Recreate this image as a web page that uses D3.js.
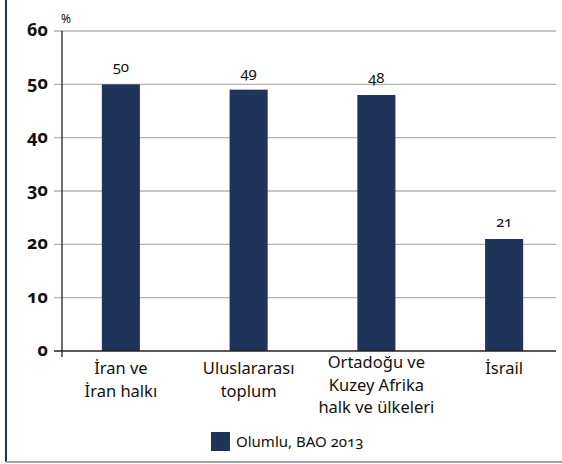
<!DOCTYPE html>
<html>
  <head>
    <style>
      body { margin: 0; background: #fff; overflow: hidden; }
      .grid line { stroke: #b3b3b3; stroke-width: 1.3px; }
    </style>
  </head>
  <body>
    <svg width="562" height="464"></svg>
  </body>
  <script src="https://d3js.org/d3.v7.min.js"></script>
  <script>
    const categories = [['İran ve', 'İran halkı'], ['Uluslararası', 'toplum'], ['Ortadoğu ve', 'Kuzey Afrika', 'halk ve ülkeleri'], ['İsrail']];
    const values = [50, 49, 48, 21];
    const yTicks = [0, 10, 20, 30, 40, 50, 60];
    const seriesName = 'Olumlu, BAO 2013';

    const svg = d3.select('svg');
    const barColor = '#1f3459';

    // frame: dark left edge, grey bottom edge
    svg.append('line').attr('x1', 6).attr('x2', 6).attr('y1', 0).attr('y2', 462)
      .attr('stroke', barColor).attr('stroke-width', 2);
    svg.append('line').attr('x1', 6).attr('x2', 562).attr('y1', 462).attr('y2', 462)
      .attr('stroke', '#a0a4ab').attr('stroke-width', 2);

    const x = d3.scaleBand()
      .domain(d3.range(values.length))
      .range([57, 568])
      .paddingInner(0.702)
      .paddingOuter(0.351);

    const y = d3.scaleLinear().domain([0, 60]).range([351, 31]);

    // gridlines
    svg.append('g').attr('class', 'grid')
      .selectAll('line')
      .data(yTicks.filter(d => d > 0))
      .enter().append('line')
      .attr('x1', 54).attr('x2', 556)
      .attr('y1', d => y(d)).attr('y2', d => y(d));

    // y labels
    svg.append('g')
      .selectAll('text')
      .data(yTicks)
      .enter().append('text')
      .attr('x', 48)
      .attr('y', d => y(d) + 5)
      .attr('text-anchor', 'end')
      .style('font-weight', 'bold')
      .style('font-size', '18px')
      .text(d => d);

    svg.append('text').attr('x', 61).attr('y', 23).style('font-size', '12px').text('%');

    // bars
    svg.append('g').selectAll('rect')
      .data(values)
      .enter().append('rect')
      .attr('x', (d, i) => x(i))
      .attr('width', x.bandwidth())
      .attr('y', d => y(d))
      .attr('height', d => y(0) - y(d))
      .attr('fill', barColor);

    svg.append('g').selectAll('text')
      .data(values)
      .enter().append('text')
      .attr('x', (d, i) => x(i) + x.bandwidth() / 2)
      .attr('y', d => y(d) - 12)
      .attr('text-anchor', 'middle')
      .style('font-size', '15px')
      .text(d => d);

    // axes lines
    svg.append('line').attr('x1', 62).attr('x2', 62).attr('y1', 31).attr('y2', 357)
      .attr('stroke', '#222').attr('stroke-width', 1.3);
    svg.append('line').attr('x1', 54).attr('x2', 556).attr('y1', y(0)).attr('y2', y(0))
      .attr('stroke', '#222').attr('stroke-width', 1.3);

    // category labels
    const cats = svg.append('g').selectAll('text')
      .data(categories)
      .enter().append('text')
      .attr('text-anchor', 'middle')
      .style('font-size', '16.5px')
      .attr('transform', (d, i) => 'translate(' + (x(i) + x.bandwidth() / 2) + ',' + (d.length > 2 ? 368 : 374) + ')');
    cats.selectAll('tspan')
      .data(d => d)
      .enter().append('tspan')
      .attr('x', 0)
      .attr('y', (d, j) => j * 22.5)
      .text(d => d);

    // legend
    const legend = svg.append('g').attr('transform', 'translate(211,432)');
    legend.append('rect').attr('width', 19).attr('height', 19).attr('fill', barColor);
    legend.append('text').attr('x', 25).attr('y', 15).style('font-size', '15px').text(seriesName);

    // shared text styling, old-style figures as in the original
    svg.selectAll('text')
      .style('font-family', '"Noto Sans", sans-serif')
      .style('font-variant-numeric', 'oldstyle-nums')
      .style('font-feature-settings', '"onum" 1')
      .style('fill', '#111');
  </script>
</html>
